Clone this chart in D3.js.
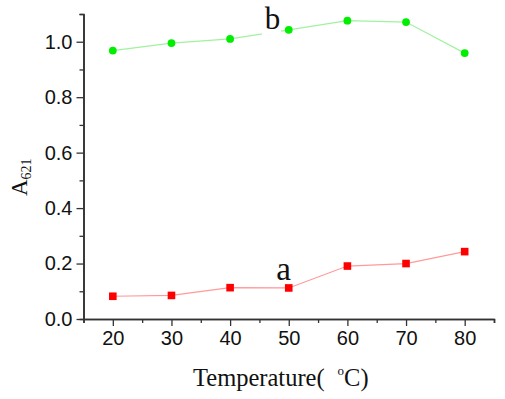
<!DOCTYPE html>
<html>
<head>
<meta charset="utf-8">
<script src="https://cdn.jsdelivr.net/npm/d3@7"></script>
<style>
  body { margin: 0; background: #fff; }
</style>
</head>
<body>
<div id="chart"></div>
<script>
(function(){

    var temperature = [20, 30, 40, 50, 60, 70, 80];
    var seriesA = [0.082, 0.085, 0.113, 0.112, 0.191, 0.200, 0.243];
    var seriesB = [0.968, 0.995, 1.010, 1.043, 1.076, 1.071, 0.959];
    var xTicks = [20, 30, 40, 50, 60, 70, 80];
    var yTicks = [0.0, 0.2, 0.4, 0.6, 0.8, 1.0];

    var width = 505;
    var height = 399;

    var margin = {
        top: 14,
        bottom: 80,
        left: 83.5,
        right: 11
    };

    var svg = d3.select("#chart")
        .append("svg")
            .attr("width", width)
            .attr("height", height)
            .attr("xmlns", "http://www.w3.org/2000/svg");

    var xScale = d3.scaleLinear()
            .domain([15, 85])
            .range([margin.left, width - margin.right]);

    var yScale = d3.scaleLinear()
            .domain([0, 1.1])
            .range([height - margin.bottom, margin.top]);

    var axisColour = '#333';
    var fmt = d3.format('.1f');

    // minor ticks first, major ticks on top
    var xMinor = d3.axisBottom(xScale)
        .tickValues([15, 25, 35, 45, 55, 65, 75, 85])
        .tickSize(4)
        .tickFormat('');
    var yMinor = d3.axisLeft(yScale)
        .tickValues([0.1, 0.3, 0.5, 0.7, 0.9, 1.1])
        .tickSize(4)
        .tickFormat('');

    var xAxis = d3.axisBottom(xScale)
        .tickValues(xTicks)
        .tickSize(7)
        .tickPadding(5)
        .tickSizeOuter(0);
    var yAxis = d3.axisLeft(yScale)
        .tickValues(yTicks)
        .tickSize(7)
        .tickPadding(4)
        .tickFormat(fmt)
        .tickSizeOuter(0);

    function styleAxis(g) {
        g.select('.domain').attr('stroke', axisColour).attr('stroke-width', 1.6);
        g.selectAll('.tick line').attr('stroke', axisColour).attr('stroke-width', 1.3);
        g.selectAll('.tick text')
            .attr('fill', '#111')
            .style('font-family', '"Liberation Sans", Arial, sans-serif')
            .style('font-size', '20px');
    }

    svg.append('g')
        .attr('transform', 'translate(0,' + yScale(0) + ')')
        .call(xMinor).call(styleAxis);
    svg.append('g')
        .attr('transform', 'translate(' + xScale(15) + ',0)')
        .call(yMinor).call(styleAxis);
    svg.append('g')
        .attr('class', 'x axis')
        .attr('transform', 'translate(0,' + yScale(0) + ')')
        .call(xAxis).call(styleAxis);
    svg.append('g')
        .attr('class', 'y axis')
        .attr('transform', 'translate(' + xScale(15) + ',0)')
        .call(yAxis).call(styleAxis);

    var line = d3.line()
        .x(function(d){ return xScale(d[0]); })
        .y(function(d){ return yScale(d[1]); });

    var dataA = d3.zip(temperature, seriesA);
    var dataB = d3.zip(temperature, seriesB);

    svg.append('path')
        .datum(dataA)
        .attr('d', line)
        .attr('fill', 'none')
        .attr('stroke', '#ff9a9a')
        .attr('stroke-width', 1.2);

    svg.append('path')
        .datum(dataB)
        .attr('d', line)
        .attr('fill', 'none')
        .attr('stroke', '#a0f2a0')
        .attr('stroke-width', 1.2);

    svg.selectAll('.markA')
        .data(dataA)
        .enter()
        .append('rect')
        .attr('class', 'markA')
        .attr('x', function(d){ return xScale(d[0]) - 3.8; })
        .attr('y', function(d){ return yScale(d[1]) - 3.8; })
        .attr('width', 7.6)
        .attr('height', 7.6)
        .attr('fill', '#ff0000');

    svg.selectAll('.markB')
        .data(dataB)
        .enter()
        .append('circle')
        .attr('class', 'markB')
        .attr('cx', function(d){ return xScale(d[0]); })
        .attr('cy', function(d){ return yScale(d[1]); })
        .attr('r', 3.9)
        .attr('fill', '#00ee00');

    var serif = '"Liberation Serif", "Times New Roman", serif';

    // label b sits on the green line with a white patch behind it
    svg.append('rect')
        .attr('x', 262)
        .attr('y', yScale(1.08))
        .attr('width', 19)
        .attr('height', 22)
        .attr('fill', '#fff');
    svg.append('text')
        .attr('x', xScale(47.25))
        .attr('y', 29)
        .attr('text-anchor', 'middle')
        .style('font-family', serif)
        .style('font-size', '31px')
        .attr('fill', '#111')
        .text('b');

    svg.append('text')
        .attr('x', xScale(49.1))
        .attr('y', 280)
        .attr('text-anchor', 'middle')
        .style('font-family', serif)
        .style('font-size', '33px')
        .attr('fill', '#111')
        .text('a');

    // axis titles
    var xt = svg.append('text')
        .attr('x', 193)
        .attr('y', 386)
        .style('font-family', serif)
        .style('font-size', '24.5px')
        .attr('fill', '#111');
    xt.append('tspan').text('Temperature(');
    xt.append('tspan').attr('dx', 13).attr('dy', -11).style('font-size', '13px').text('o');
    xt.append('tspan').attr('dy', 11).text('C)');

    var yt = svg.append('text')
        .attr('transform', 'translate(27,196) rotate(-90)')
        .style('font-family', serif)
        .style('font-size', '23px')
        .attr('fill', '#111');
    yt.append('tspan').text('A');
    yt.append('tspan').attr('dy', 4).style('font-size', '14px').text('621');

})();
</script>
</body>
</html>
